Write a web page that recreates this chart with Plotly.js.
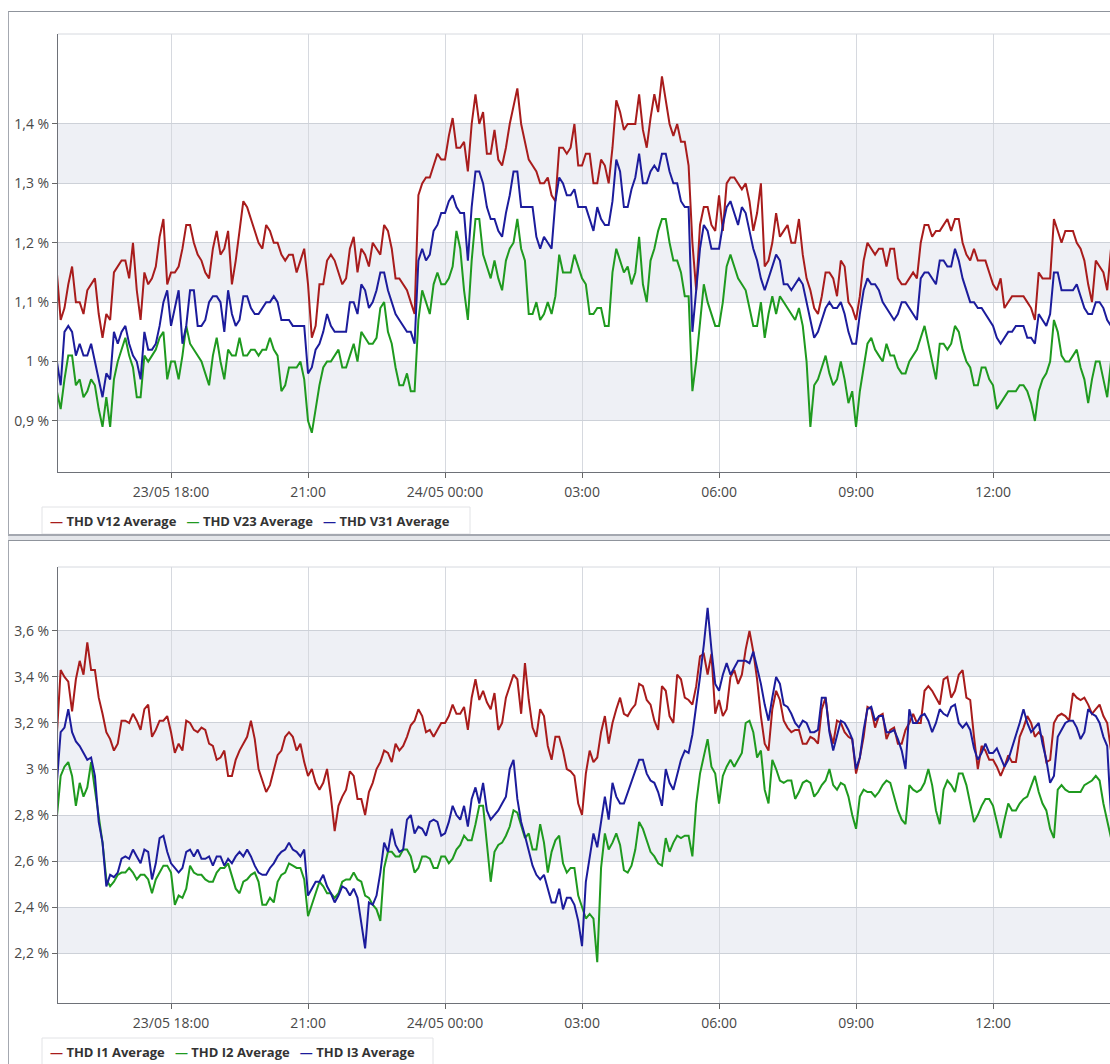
<!DOCTYPE html>
<html><head><meta charset="utf-8">
<script src="https://cdn.plot.ly/plotly-3.0.1.min.js"></script>
<style>
html,body{margin:0;padding:0;background:#fff;width:1110px;height:1064px;overflow:hidden;}
#p1{position:absolute;left:8px;top:11px;width:1102px;height:522px;border-top:1px solid #8f949c;border-left:1px solid #a4a8b0;border-bottom:2px solid #a4a8b0;}
#sep{position:absolute;left:8px;top:536px;width:1102px;height:4px;background:#e4e6ea;}
#p2{position:absolute;left:8px;top:540px;width:1102px;height:524px;border-top:1px solid #8f949c;border-left:1px solid #a4a8b0;}
</style></head><body>
<div id="p1"><div id="c1"></div></div>
<div id="sep"></div>
<div id="p2"><div id="c2"></div></div>
<script>
// ---------------- DATA (5-minute averages) ----------------
const startTime = '2024-05-23 15:30';
const stepMinutes = 5;

const voltageNames = ['THD V12 Average', 'THD V23 Average', 'THD V31 Average'];
const currentNames = ['THD I1 Average', 'THD I2 Average', 'THD I3 Average'];

const thdV12 = [
1.15,1.07,1.09,1.13,1.16,1.10,1.10,1.08,1.12,1.13,1.14,1.08,1.04,1.08,1.07,1.15,1.16,1.17,1.17,1.14,
1.20,1.12,1.07,1.15,1.13,1.14,1.16,1.21,1.24,1.13,1.15,1.15,1.16,1.19,1.23,1.23,1.20,1.18,1.17,1.15,
1.14,1.19,1.22,1.18,1.19,1.22,1.13,1.17,1.22,1.27,1.26,1.24,1.22,1.20,1.19,1.23,1.22,1.20,1.20,1.18,
1.17,1.18,1.18,1.15,1.17,1.19,1.13,1.04,1.06,1.13,1.13,1.17,1.18,1.17,1.15,1.13,1.14,1.19,1.21,1.15,
1.19,1.18,1.16,1.20,1.19,1.18,1.23,1.22,1.19,1.14,1.14,1.13,1.12,1.10,1.08,1.28,1.30,1.31,1.31,1.33,
1.35,1.34,1.34,1.38,1.41,1.36,1.36,1.37,1.32,1.40,1.45,1.40,1.42,1.35,1.35,1.39,1.34,1.33,1.36,1.40,
1.43,1.46,1.40,1.37,1.34,1.33,1.32,1.30,1.30,1.31,1.28,1.27,1.36,1.36,1.35,1.36,1.40,1.33,1.33,1.35,
1.35,1.30,1.30,1.34,1.33,1.30,1.36,1.44,1.42,1.39,1.40,1.40,1.40,1.45,1.39,1.36,1.41,1.45,1.42,1.48,
1.44,1.40,1.38,1.40,1.37,1.37,1.33,1.20,1.12,1.23,1.26,1.26,1.23,1.22,1.28,1.22,1.30,1.31,1.31,1.30,
1.29,1.30,1.27,1.22,1.25,1.30,1.16,1.17,1.20,1.25,1.21,1.22,1.23,1.20,1.20,1.24,1.18,1.14,1.12,1.09,
1.08,1.11,1.15,1.15,1.14,1.11,1.17,1.16,1.10,1.09,1.07,1.11,1.17,1.20,1.19,1.18,1.19,1.19,1.16,1.19,
1.19,1.14,1.13,1.13,1.14,1.15,1.14,1.20,1.23,1.23,1.21,1.22,1.22,1.23,1.24,1.22,1.24,1.24,1.20,1.18,
1.17,1.19,1.17,1.17,1.17,1.15,1.13,1.12,1.14,1.09,1.10,1.11,1.11,1.11,1.11,1.10,1.09,1.07,1.15,1.14,
1.14,1.14,1.24,1.22,1.20,1.22,1.22,1.22,1.20,1.19,1.17,1.13,1.10,1.17,1.16,1.15,1.12,1.19,1.16];

const thdV23 = [
0.95,0.92,0.97,1.01,1.01,0.96,0.97,0.94,0.95,0.97,0.96,0.92,0.89,0.94,0.89,0.97,1.00,1.02,1.04,1.01,
0.99,0.94,0.94,1.01,1.00,1.01,1.02,1.04,1.05,0.97,1.00,1.00,0.97,1.01,1.06,1.03,1.02,1.01,1.00,0.98,
0.96,1.01,1.04,1.00,0.97,1.02,1.01,1.01,1.04,1.01,1.01,1.02,1.02,1.01,1.02,1.02,1.04,1.02,1.01,0.95,
0.96,0.99,0.99,0.99,1.00,0.97,0.90,0.88,0.92,0.96,0.99,1.00,1.00,1.01,1.02,0.99,0.99,1.01,1.03,1.00,
1.05,1.04,1.03,1.03,1.04,1.09,1.10,1.05,1.03,0.99,0.96,0.96,0.98,0.95,0.95,1.07,1.12,1.10,1.08,1.13,
1.15,1.13,1.13,1.14,1.16,1.22,1.19,1.12,1.07,1.17,1.24,1.24,1.18,1.16,1.14,1.17,1.14,1.12,1.17,1.19,
1.20,1.24,1.19,1.17,1.08,1.08,1.10,1.07,1.08,1.10,1.08,1.11,1.18,1.15,1.15,1.15,1.18,1.16,1.14,1.13,
1.08,1.08,1.09,1.09,1.06,1.06,1.15,1.19,1.17,1.15,1.16,1.13,1.15,1.21,1.13,1.10,1.17,1.19,1.22,1.24,
1.24,1.20,1.17,1.17,1.15,1.11,1.11,0.95,1.00,1.07,1.13,1.10,1.08,1.06,1.06,1.10,1.16,1.18,1.16,1.14,
1.13,1.12,1.09,1.06,1.06,1.10,1.04,1.08,1.11,1.08,1.11,1.10,1.09,1.08,1.07,1.09,1.06,1.00,0.89,0.96,
0.97,0.99,1.01,0.98,0.96,0.97,1.00,0.97,0.93,0.95,0.89,0.95,0.99,1.03,1.04,1.02,1.01,1.00,1.03,1.01,
1.01,0.99,0.98,0.98,1.00,1.01,1.02,1.04,1.06,1.03,1.00,0.97,1.03,1.03,1.02,1.03,1.06,1.05,1.02,1.00,
0.99,0.96,0.96,0.99,0.99,0.97,0.96,0.92,0.93,0.94,0.95,0.95,0.95,0.96,0.96,0.95,0.93,0.90,0.95,0.97,
0.98,1.00,1.07,1.05,1.01,1.00,1.00,1.01,1.02,0.99,0.97,0.93,0.97,1.00,1.00,0.97,0.94,1.00,1.01];

const thdV31 = [
1.00,0.96,1.05,1.06,1.05,1.01,1.03,1.01,1.01,1.03,1.00,0.97,0.94,0.98,0.97,1.05,1.03,1.05,1.06,1.03,
1.01,1.00,0.97,1.05,1.02,1.02,1.03,1.06,1.10,1.12,1.06,1.09,1.12,1.03,1.06,1.12,1.12,1.06,1.06,1.07,
1.10,1.11,1.11,1.10,1.05,1.12,1.08,1.06,1.07,1.11,1.11,1.09,1.08,1.08,1.09,1.10,1.10,1.11,1.10,1.07,
1.07,1.07,1.06,1.06,1.06,1.06,0.98,0.99,1.02,1.03,1.05,1.08,1.06,1.05,1.05,1.05,1.05,1.10,1.10,1.08,
1.13,1.12,1.09,1.10,1.12,1.15,1.15,1.12,1.10,1.08,1.07,1.06,1.05,1.05,1.03,1.17,1.19,1.17,1.18,1.22,
1.23,1.25,1.25,1.27,1.28,1.26,1.25,1.25,1.17,1.26,1.32,1.32,1.30,1.26,1.24,1.24,1.22,1.21,1.25,1.28,
1.32,1.32,1.26,1.26,1.26,1.26,1.21,1.19,1.21,1.20,1.19,1.27,1.31,1.30,1.28,1.28,1.29,1.26,1.26,1.26,
1.24,1.22,1.26,1.24,1.23,1.23,1.27,1.34,1.32,1.26,1.26,1.29,1.31,1.35,1.30,1.30,1.32,1.33,1.32,1.35,
1.35,1.32,1.30,1.30,1.27,1.26,1.26,1.05,1.12,1.19,1.23,1.22,1.19,1.19,1.19,1.23,1.26,1.27,1.25,1.23,
1.26,1.25,1.22,1.19,1.17,1.14,1.12,1.14,1.16,1.18,1.17,1.13,1.13,1.12,1.13,1.14,1.13,1.10,1.07,1.04,
1.05,1.07,1.09,1.10,1.09,1.09,1.10,1.08,1.05,1.03,1.03,1.08,1.12,1.14,1.13,1.13,1.12,1.10,1.09,1.08,
1.07,1.08,1.10,1.10,1.09,1.08,1.07,1.14,1.15,1.15,1.14,1.13,1.17,1.17,1.16,1.16,1.19,1.17,1.14,1.12,
1.10,1.10,1.09,1.09,1.08,1.07,1.06,1.04,1.03,1.04,1.05,1.05,1.06,1.06,1.06,1.04,1.04,1.03,1.08,1.07,
1.06,1.08,1.15,1.15,1.12,1.12,1.12,1.12,1.13,1.11,1.09,1.08,1.08,1.10,1.10,1.09,1.07,1.06,1.08];

const thdI1 = [
3.15,3.43,3.40,3.38,3.25,3.39,3.47,3.41,3.55,3.43,3.43,3.31,3.24,3.16,3.13,3.08,3.11,3.21,3.21,3.20,
3.24,3.21,3.17,3.26,3.28,3.14,3.17,3.21,3.21,3.23,3.16,3.07,3.11,3.08,3.21,3.20,3.17,3.16,3.18,3.17,
3.11,3.10,3.04,3.05,3.08,2.97,2.97,3.04,3.08,3.11,3.14,3.21,3.13,3.00,2.95,2.90,2.93,2.99,3.06,3.08,
3.14,3.16,3.14,3.08,3.11,3.03,2.97,3.00,2.94,2.91,2.94,3.00,2.88,2.73,2.84,2.88,2.91,2.99,2.97,2.87,
2.87,2.80,2.90,2.94,3.00,3.03,3.08,3.07,3.03,3.11,3.08,3.10,3.14,3.19,3.21,3.26,3.23,3.16,3.17,3.14,
3.17,3.20,3.20,3.23,3.28,3.24,3.24,3.27,3.17,3.31,3.39,3.30,3.34,3.29,3.26,3.33,3.17,3.20,3.31,3.36,
3.41,3.39,3.24,3.46,3.30,3.18,3.14,3.26,3.23,3.10,3.04,3.14,3.14,3.08,3.00,2.99,2.97,2.85,2.80,2.98,
3.08,3.03,3.05,3.16,3.23,3.11,3.20,3.26,3.31,3.24,3.23,3.26,3.28,3.37,3.36,3.30,3.28,3.21,3.17,3.36,
3.34,3.23,3.20,3.41,3.39,3.31,3.30,3.28,3.36,3.49,3.50,3.41,3.50,3.24,3.30,3.23,3.26,3.40,3.43,3.37,
3.41,3.52,3.60,3.51,3.39,3.23,3.11,3.08,3.26,3.34,3.30,3.21,3.18,3.16,3.17,3.17,3.11,3.11,3.14,3.13,
3.11,3.26,3.31,3.17,3.11,3.21,3.20,3.16,3.14,3.13,2.98,3.05,3.14,3.27,3.26,3.18,3.23,3.24,3.13,3.17,
3.18,3.11,3.11,3.17,3.20,3.24,3.20,3.20,3.34,3.36,3.34,3.31,3.28,3.39,3.40,3.31,3.34,3.41,3.43,3.31,
3.30,3.14,3.00,3.10,3.08,3.04,3.04,3.01,2.97,3.01,3.06,3.03,3.03,3.14,3.18,3.23,3.20,3.14,3.16,3.14,
3.03,3.04,3.20,3.23,3.24,3.23,3.21,3.33,3.31,3.30,3.31,3.28,3.24,3.26,3.28,3.23,3.20,3.08,3.11];

const thdI2 = [
2.79,2.97,3.01,3.03,2.97,2.84,2.94,2.88,2.92,3.03,2.91,2.80,2.68,2.52,2.49,2.51,2.54,2.55,2.55,2.57,
2.55,2.52,2.54,2.54,2.52,2.46,2.52,2.55,2.58,2.58,2.55,2.41,2.45,2.44,2.48,2.58,2.55,2.54,2.54,2.52,
2.51,2.51,2.55,2.57,2.57,2.59,2.54,2.48,2.46,2.51,2.52,2.54,2.55,2.51,2.41,2.41,2.44,2.42,2.51,2.54,
2.55,2.59,2.58,2.57,2.57,2.52,2.36,2.41,2.45,2.51,2.49,2.46,2.46,2.44,2.46,2.51,2.52,2.52,2.55,2.52,
2.51,2.45,2.44,2.41,2.39,2.34,2.57,2.64,2.64,2.62,2.62,2.65,2.65,2.62,2.55,2.57,2.62,2.62,2.61,2.57,
2.57,2.62,2.62,2.59,2.61,2.65,2.67,2.71,2.69,2.69,2.76,2.84,2.84,2.69,2.51,2.64,2.67,2.68,2.71,2.75,
2.82,2.81,2.76,2.70,2.72,2.65,2.65,2.76,2.68,2.55,2.64,2.69,2.71,2.59,2.55,2.57,2.57,2.45,2.40,2.35,
2.37,2.35,2.16,2.57,2.72,2.65,2.68,2.72,2.67,2.56,2.55,2.58,2.65,2.77,2.74,2.69,2.64,2.62,2.59,2.58,
2.70,2.64,2.68,2.71,2.70,2.71,2.71,2.62,2.85,2.98,3.05,3.13,3.01,2.98,2.85,2.97,3.01,3.04,3.01,3.04,
3.07,3.20,3.21,3.16,3.05,3.08,2.91,2.85,3.04,3.00,2.95,2.94,2.95,2.95,2.87,2.90,2.94,2.95,2.94,2.88,
2.90,2.93,2.95,3.00,2.93,2.91,2.94,2.93,2.88,2.80,2.74,2.88,2.91,2.90,2.90,2.88,2.90,2.93,2.95,2.94,
2.88,2.82,2.78,2.76,2.93,2.91,2.90,2.91,2.94,3.00,2.93,2.82,2.76,2.91,2.95,2.93,2.90,2.98,2.98,2.93,
2.85,2.77,2.80,2.84,2.87,2.87,2.84,2.77,2.70,2.78,2.85,2.82,2.82,2.85,2.87,2.88,2.93,2.97,2.90,2.85,
2.82,2.74,2.70,2.91,2.93,2.91,2.90,2.90,2.90,2.90,2.93,2.94,2.95,2.97,2.95,2.85,2.78,2.70,2.74];

const thdI3 = [
2.94,3.16,3.18,3.26,3.16,3.12,3.10,3.07,3.04,3.05,2.97,2.77,2.68,2.49,2.54,2.53,2.55,2.61,2.62,2.61,
2.65,2.62,2.59,2.65,2.64,2.52,2.59,2.70,2.71,2.64,2.59,2.57,2.55,2.57,2.64,2.65,2.62,2.65,2.61,2.61,
2.62,2.58,2.62,2.62,2.58,2.61,2.59,2.62,2.64,2.62,2.65,2.62,2.58,2.55,2.54,2.54,2.57,2.59,2.62,2.64,
2.65,2.68,2.65,2.64,2.62,2.65,2.45,2.48,2.51,2.51,2.54,2.49,2.46,2.42,2.45,2.49,2.48,2.45,2.48,2.44,
2.33,2.22,2.42,2.41,2.45,2.55,2.68,2.64,2.74,2.67,2.64,2.65,2.78,2.80,2.72,2.75,2.74,2.71,2.77,2.78,
2.77,2.71,2.72,2.77,2.84,2.80,2.78,2.84,2.75,2.87,2.92,2.85,2.94,2.82,2.78,2.80,2.82,2.85,2.88,3.00,
3.04,2.87,2.77,2.71,2.65,2.58,2.54,2.52,2.54,2.48,2.42,2.42,2.48,2.39,2.44,2.44,2.41,2.34,2.23,2.51,
2.62,2.72,2.66,2.78,2.88,2.78,2.94,2.88,2.85,2.85,2.90,2.94,3.00,3.04,3.04,2.98,2.95,2.94,2.90,2.84,
3.00,2.94,2.91,2.97,3.04,3.08,3.07,3.15,3.27,3.40,3.54,3.70,3.52,3.37,3.34,3.41,3.46,3.41,3.44,3.47,
3.47,3.47,3.46,3.51,3.44,3.37,3.28,3.21,3.31,3.40,3.37,3.28,3.27,3.24,3.20,3.18,3.21,3.20,3.16,3.16,
3.17,3.31,3.31,3.16,3.08,3.14,3.21,3.20,3.17,3.13,3.00,3.05,3.17,3.26,3.27,3.21,3.23,3.23,3.16,3.16,
3.17,3.13,3.08,3.00,3.26,3.20,3.20,3.23,3.24,3.21,3.16,3.20,3.26,3.24,3.23,3.27,3.28,3.20,3.18,3.20,
3.17,3.09,3.04,3.07,3.11,3.07,3.07,3.09,3.05,3.01,3.04,3.09,3.14,3.20,3.26,3.20,3.16,3.18,3.20,3.11,
3.04,2.94,2.97,3.14,3.17,3.20,3.21,3.21,3.18,3.13,3.16,3.26,3.24,3.23,3.20,3.14,3.10,2.80,2.88];

const xTickVals = ['2024-05-23 18:00','2024-05-23 21:00','2024-05-24 00:00','2024-05-24 03:00','2024-05-24 06:00','2024-05-24 09:00','2024-05-24 12:00'];
const xTickText = ['23/05 18:00','21:00','24/05 00:00','03:00','06:00','09:00','12:00'];
const xRange = ['2024-05-23 15:31:30','2024-05-24 14:33:40'];

const vTickVals = [0.9,1.0,1.1,1.2,1.3,1.4];
const vTickText = ['0,9 %','1 %','1,1 %','1,2 %','1,3 %','1,4 %'];
const vRange = [0.814,1.5515];

const iTickVals = [2.2,2.4,2.6,2.8,3.0,3.2,3.4,3.6];
const iTickText = ['2,2 %','2,4 %','2,6 %','2,8 %','3 %','3,2 %','3,4 %','3,6 %'];
const iRange = [1.983,3.878];

const seriesColors = ['#a81c1c','#1f9a1f','#1c1c9c'];

// ---------------- BUILD ----------------
function pad(n){return String(n).padStart(2,'0');}
function makeTimes(n){
  const m = startTime.match(/(\d+)-(\d+)-(\d+) (\d+):(\d+)/);
  const t0 = Date.UTC(+m[1],+m[2]-1,+m[3],+m[4],+m[5]);
  const out=[];
  for(let i=0;i<n;i++){
    const d=new Date(t0+i*stepMinutes*60000);
    out.push(d.getUTCFullYear()+'-'+pad(d.getUTCMonth()+1)+'-'+pad(d.getUTCDate())+' '+pad(d.getUTCHours())+':'+pad(d.getUTCMinutes()));
  }
  return out;
}

const FONT = '"Open Sans", "Segoe UI", "DejaVu Sans", sans-serif';

function buildChart(div, names, series, tickVals, tickText, yRange, geom){
  const traces = series.map((s,i)=>({
    x: makeTimes(s.length), y: s, type:'scatter', mode:'lines', name:names[i],
    line:{color:seriesColors[i], width:2}, hoverinfo:'skip', showlegend:false
  }));
  const shapes = [];
  for(let i=0;i+1<tickVals.length;i+=2){
    shapes.push({type:'rect', xref:'paper', yref:'y', x0:0, x1:1, y0:tickVals[i], y1:tickVals[i+1],
      fillcolor:'#eef0f5', line:{width:0}, layer:'below'});
  }
  shapes.push({type:'line', xref:'paper', yref:'paper', x0:0, x1:1, y0:1, y1:1, line:{color:'#d6d9df', width:1}});
  const pw = geom.width - geom.l - geom.r;
  const ph = geom.height - geom.t - geom.b;
  const px2x = p => (p - geom.l) / pw;
  const py2y = p => 1 - (p - geom.t) / ph;
  shapes.push({type:'rect', xref:'paper', yref:'paper', x0:px2x(geom.legL), x1:px2x(geom.legR),
    y0:py2y(geom.legT), y1:py2y(geom.legB), line:{color:'#e2e3e6', width:1}, fillcolor:'rgba(0,0,0,0)'});
  const legText = names.map((n,i)=>'<span style="color:'+seriesColors[i]+'">\u2014</span> '+n).join('\u00a0\u00a0\u00a0');
  const annotations = [{
    xref:'paper', yref:'paper', x:px2x(geom.legL+6), y:py2y(geom.legY), xanchor:'left', yanchor:'middle',
    text:'<b>'+legText+'</b>', showarrow:false, font:{family:FONT, size:13, color:'#333'}
  }];
  const tf = {family:FONT, size:14, color:'#484848'};
  const layout = {
    width: geom.width, height: geom.height,
    margin:{l:geom.l, r:geom.r, t:geom.t, b:geom.b, pad:0},
    paper_bgcolor:'#ffffff', plot_bgcolor:'#ffffff',
    font:{family:FONT, size:13, color:'#444'},
    showlegend:false,
    xaxis:{type:'date', range:xRange, tickvals:xTickVals, ticktext:xTickText,
      ticks:'outside', ticklen:5, tickcolor:'#666', tickwidth:1, ticklabelstandoff:2,
      showline:true, linecolor:'#6e7178', linewidth:1,
      showgrid:true, gridcolor:'#d6d9df', gridwidth:1, zeroline:false,
      tickfont:tf, fixedrange:true},
    yaxis:{range:yRange, tickvals:tickVals, ticktext:tickText,
      ticks:'outside', ticklen:5, tickcolor:'#666', tickwidth:1,
      showline:true, linecolor:'#6e7178', linewidth:1,
      showgrid:true, gridcolor:'#cdd1d8', gridwidth:1, zeroline:false,
      tickfont:tf, fixedrange:true},
    shapes: shapes, annotations: annotations
  };
  Plotly.newPlot(div, traces, layout, {staticPlot:true, displayModeBar:false});
}

buildChart('c1', voltageNames, [thdV12, thdV23, thdV31], vTickVals, vTickText, vRange,
  {width:1101, height:522, l:49, r:0, t:22, b:62, legL:33, legR:461, legT:495, legB:522, legY:509});
buildChart('c2', currentNames, [thdI1, thdI2, thdI3], iTickVals, iTickText, iRange,
  {width:1101, height:523, l:49, r:0, t:26, b:61, legL:33, legR:424, legT:497, legB:524, legY:511});
</script>
</body></html>
